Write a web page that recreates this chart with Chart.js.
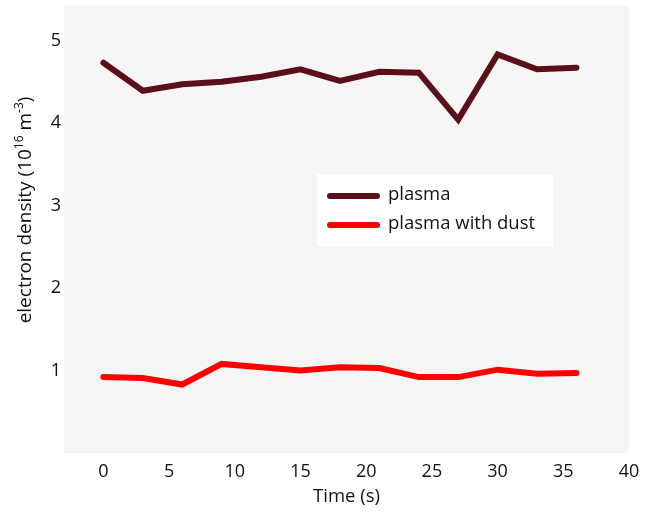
<!DOCTYPE html>
<html>
<head>
<meta charset="utf-8">
<script src="https://cdn.jsdelivr.net/npm/chart.js@4"></script>
<style>
  html, body { margin: 0; padding: 0; background: #ffffff; }
  #wrap { width: 656px; height: 512px; }
</style>
</head>
<body>
<div id="wrap"><canvas id="chart" width="656" height="512"></canvas></div>
<script>
// time axis (s) and measured electron density (10^16 m^-3)
const times = [0, 3, 6, 9, 12, 15, 18, 21, 24, 27, 30, 33, 36];
const plasma = [4.73, 4.39, 4.47, 4.50, 4.56, 4.65, 4.51, 4.62, 4.61, 4.04, 4.83, 4.65, 4.67];
const plasmaDust = [0.92, 0.91, 0.83, 1.08, 1.04, 1.00, 1.04, 1.03, 0.92, 0.92, 1.01, 0.96, 0.97];
const xTicks = [0, 5, 10, 15, 20, 25, 30, 35, 40];
const yTicks = [1, 2, 3, 4, 5];
const seriesLabels = ['plasma', 'plasma with dust'];

const FONT = '"Open Sans", Lato, sans-serif';
const TEXT = '#111111';

// gray plot background
const plotBg = {
    id: 'plotBg',
    beforeDraw: function(chart) {
        const a = chart.chartArea;
        const ctx = chart.ctx;
        ctx.save();
        ctx.fillStyle = '#f5f5f3';
        ctx.fillRect(a.left, a.top, a.right - a.left, a.bottom - a.top);
        ctx.restore();
    }
};

// y axis title with superscripts
const yTitle = {
    id: 'yTitle',
    afterDraw: function(chart) {
        const ctx = chart.ctx;
        const parts = [
            ['electron density (10', 19, 0],
            ['16', 12, -8],
            [' m', 19, 0],
            ['-3', 12, -8],
            [')', 19, 0]
        ];
        ctx.save();
        let total = 0;
        parts.forEach(function(p) {
            ctx.font = p[1] + 'px ' + FONT;
            total += ctx.measureText(p[0]).width;
        });
        ctx.translate(31, 210);
        ctx.rotate(-Math.PI / 2);
        ctx.fillStyle = TEXT;
        ctx.textBaseline = 'alphabetic';
        let x = -total / 2;
        parts.forEach(function(p) {
            ctx.font = p[1] + 'px ' + FONT;
            ctx.fillText(p[0], x, p[2]);
            x += ctx.measureText(p[0]).width;
        });
        ctx.restore();
    }
};

// legend box inside the plot
const boxLegend = {
    id: 'boxLegend',
    afterDraw: function(chart) {
        const ctx = chart.ctx;
        const left = 317, top = 174, w = 236, h = 72;
        ctx.save();
        ctx.fillStyle = '#ffffff';
        ctx.fillRect(left, top, w, h);
        chart.data.datasets.forEach(function(ds, i) {
            const y = top + 22 + i * 29;
            ctx.strokeStyle = ds.borderColor;
            ctx.lineWidth = 6;
            ctx.lineCap = 'round';
            ctx.beginPath();
            ctx.moveTo(330, y);
            ctx.lineTo(377, y);
            ctx.stroke();
            ctx.fillStyle = TEXT;
            ctx.font = '18.5px ' + FONT;
            ctx.textBaseline = 'middle';
            ctx.fillText(ds.label, 388, y - 1);
        });
        ctx.restore();
    }
};

new Chart(document.getElementById('chart'), {
    type: 'line',
    data: {
        datasets: [{
            label: seriesLabels[0],
            data: times.map((t, i) => ({ x: t, y: plasma[i] })),
            borderColor: '#5a0f1b',
            borderWidth: 6,
            pointRadius: 0,
            borderCapStyle: 'round',
            borderJoinStyle: 'miter',
            tension: 0
        }, {
            label: seriesLabels[1],
            data: times.map((t, i) => ({ x: t, y: plasmaDust[i] })),
            borderColor: '#ff0000',
            borderWidth: 6,
            pointRadius: 0,
            borderCapStyle: 'round',
            borderJoinStyle: 'miter',
            tension: 0
        }]
    },
    options: {
        responsive: false,
        animation: false,
        devicePixelRatio: 1,
        layout: { padding: { top: -14, right: 27, left: 0, bottom: 0 } },
        plugins: {
            legend: { display: false },
            tooltip: { enabled: false }
        },
        scales: {
            x: {
                type: 'linear',
                min: -3,
                max: 40,
                grid: { display: false },
                border: { display: false },
                afterBuildTicks: function(scale) {
                    scale.ticks = xTicks.map(v => ({ value: v }));
                },
                afterFit: function(scale) { scale.height = 59; },
                ticks: {
                    color: TEXT,
                    font: { family: FONT, size: 18 },
                    padding: 0,
                    maxRotation: 0,
                    autoSkip: false
                },
                title: {
                    display: true,
                    text: 'Time (s)',
                    color: TEXT,
                    font: { family: FONT, size: 18.5 },
                    padding: { top: 2 }
                }
            },
            y: {
                type: 'linear',
                min: 0,
                max: 5.42,
                grid: { display: false },
                border: { display: false },
                afterBuildTicks: function(scale) {
                    scale.ticks = yTicks.map(v => ({ value: v }));
                },
                afterFit: function(scale) { scale.width = 64; },
                ticks: {
                    color: TEXT,
                    font: { family: FONT, size: 18 },
                    padding: -5
                }
            }
        }
    },
    plugins: [plotBg, yTitle, boxLegend]
});
</script>
</body>
</html>
